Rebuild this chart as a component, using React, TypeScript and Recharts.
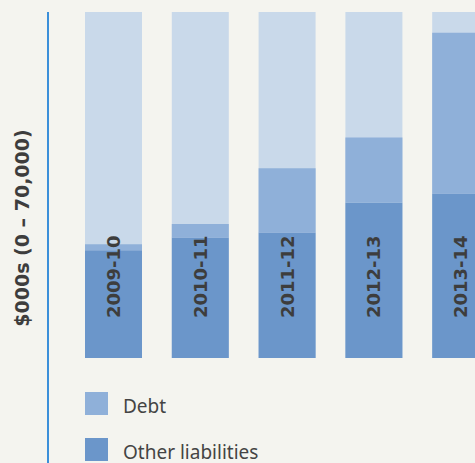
import { BarChart, Bar, XAxis, YAxis, LabelList } from "recharts"

const categories = ["2009-10", "2010-11", "2011-12", "2012-13", "2013-14"]
const otherLiabilities = [21800, 24400, 25400, 31400, 33300]
const debt = [1200, 2700, 13000, 13200, 32500]
const yMax = 70000

const legendItems = [
  { name: "Debt", color: "#8fb0d9" },
  { name: "Other liabilities", color: "#6b96ca" },
]

const data = categories.map((year, i) => ({
  year,
  other: otherLiabilities[i],
  debt: debt[i],
}))

const FONT = "'DejaVu Sans', sans-serif"

function YearLabel(props: any) {
  const { x, y, width, height, index } = props
  const cx = x + width / 2
  const ty = y + height - 40
  return (
    <text
      x={cx}
      y={ty}
      transform={`rotate(-90 ${cx} ${ty})`}
      textAnchor="start"
      dominantBaseline="central"
      fontFamily={FONT}
      fontWeight="bold"
      fontSize={18}
      fill="#3d3d3d"
    >
      {categories[index]}
    </text>
  )
}

function LegendBox() {
  return (
    <div style={{ fontFamily: "'Noto Sans', sans-serif", fontSize: 19, color: "#444" }}>
      {legendItems.map((item) => (
        <div key={item.name} style={{ display: "flex", alignItems: "center", height: 23, marginBottom: 23 }}>
          <span style={{ width: 23, height: 23, background: item.color, display: "inline-block" }} />
          <span style={{ marginLeft: 15, lineHeight: "23px", position: "relative", top: 3, whiteSpace: "nowrap" }}>
            {item.name}
          </span>
        </div>
      ))}
    </div>
  )
}

export default function App() {
  return (
    <div
      style={{
        position: "absolute",
        left: 0,
        top: 0,
        width: 475,
        height: 463,
        overflow: "hidden",
        background: "#f4f4ef",
      }}
    >
      <div style={{ position: "absolute", left: 47, top: 12, width: 2, height: 451, background: "#3b8fd9" }} />
      <div
        style={{
          position: "absolute",
          left: 22,
          top: 228,
          transform: "translate(-50%, -50%) rotate(-90deg)",
          whiteSpace: "nowrap",
          fontFamily: FONT,
          fontWeight: "bold",
          fontSize: 19,
          color: "#3d3d3d",
        }}
      >
        $000s (0 – 70,000)
      </div>
      <BarChart width={504} height={463} data={data} margin={{ top: 12, right: 0, left: 70, bottom: 105 }} barSize={57}>
        <XAxis dataKey="year" hide />
        <YAxis hide domain={[0, yMax]} />
        <Bar dataKey="other" stackId="a" fill="#6b96ca" background={{ fill: "#c9d9ea" }} isAnimationActive={false}>
          <LabelList dataKey="year" content={<YearLabel />} />
        </Bar>
        <Bar dataKey="debt" stackId="a" fill="#8fb0d9" isAnimationActive={false} />
      </BarChart>
      <div style={{ position: "absolute", left: 85, top: 392, width: 300 }}>
        <LegendBox />
      </div>
    </div>
  )
}
